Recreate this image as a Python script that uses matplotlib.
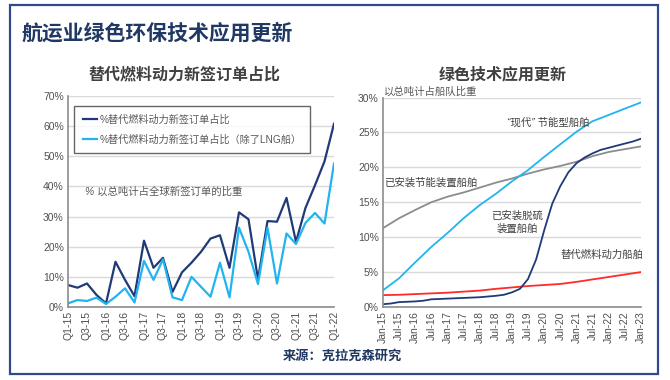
import numpy as np
import pandas as pd
import matplotlib
matplotlib.use("Agg")
import matplotlib.pyplot as plt
import matplotlib.dates as mdates
from matplotlib.patches import Rectangle
from matplotlib.ticker import PercentFormatter

plt.rcParams['font.family'] = ['Liberation Sans', 'Noto Sans CJK SC']

# ---- left chart data: share of new orders, quarterly ----
quarters = [f"Q{q}-{y}" for y in range(15, 23) for q in range(1, 5)][:29]
alt_share = [7.3, 6.4, 7.8, 4.0, 1.2, 15.0, 9.0, 3.6, 22.0, 13.0, 16.3, 5.0,
             11.5, 14.7, 18.3, 22.7, 23.8, 13.0, 31.4, 29.1, 9.2, 28.5, 28.3,
             36.2, 21.6, 32.9, 40.4, 48.3, 60.8]
alt_share_ex_lng = [1.2, 2.3, 2.0, 3.1, 1.0, 3.4, 6.2, 1.5, 15.3, 9.0, 15.8, 3.2,
                    2.3, 10.0, 6.7, 3.4, 14.7, 3.2, 26.3, 18.3, 7.6, 26.3, 7.8,
                    24.4, 20.9, 27.9, 31.2, 27.7, 47.6]

# ---- right chart data: share of fleet ----
half_years = pd.date_range("2015-01-01", "2023-01-01", freq="6MS")
energy_saving = [11.3, 12.7, 13.9, 15.0, 15.8, 16.4, 17.1, 17.8, 18.4, 19.1,
                 19.7, 20.2, 20.8, 21.6, 22.2, 22.6, 23.0]
eco_ships = [2.4, 4.1, 6.4, 8.6, 10.6, 12.7, 14.6, 16.2, 18.0, 19.6, 21.5,
             23.3, 25.1, 26.6, 27.5, 28.4, 29.3]
alt_fuel_fleet = [1.7, 1.75, 1.85, 1.95, 2.05, 2.2, 2.35, 2.6, 2.8, 3.0, 3.15,
                  3.3, 3.6, 3.95, 4.3, 4.65, 5.0]
quarter_dates = pd.date_range("2015-01-01", "2023-01-01", freq="3MS")
scrubbers = [0.4, 0.5, 0.7, 0.75, 0.8, 0.9, 1.1, 1.15, 1.2, 1.25, 1.3, 1.35,
             1.4, 1.5, 1.6, 1.75, 2.1, 2.6, 4.0, 6.8, 11.0, 14.8, 17.3, 19.3,
             20.6, 21.4, 22.0, 22.5, 22.8, 23.1, 23.4, 23.7, 24.1]

NAVY = "#1F3864"
DARK = "#203A78"
LIGHT = "#22B4EE"
TXT = "#595959"

fig = plt.figure(figsize=(6.7, 3.8), dpi=100)
fig.patch.set_facecolor("white")
fig.patches.append(Rectangle((10 / 670, 1 - 374 / 380), 648 / 670, 369 / 380,
                             transform=fig.transFigure, fill=False,
                             edgecolor="#2E4A8C", linewidth=1.6))

fig.text(22 / 670, 1 - 33 / 380, "航运业绿色环保技术应用更新", fontsize=15,
         fontweight="bold", color=NAVY, va="center", ha="left")
fig.text(185 / 670, 1 - 75 / 380, "替代燃料动力新签订单占比", fontsize=11.5,
         fontweight="bold", color="#404040", va="center", ha="center")
fig.text(503 / 670, 1 - 75 / 380, "绿色技术应用更新", fontsize=11.5,
         fontweight="bold", color="#404040", va="center", ha="center")
fig.text(283 / 670, 1 - 356 / 380, "来源：克拉克森研究", fontsize=9.5,
         fontweight="bold", color=NAVY, va="center", ha="left")


def style_axes(ax):
    ax.spines[["top", "right"]].set_visible(False)
    for s in ("left", "bottom"):
        ax.spines[s].set_color("#8C8C8C")
        ax.spines[s].set_linewidth(1.2)
    ax.grid(axis="y", color="#D9D9D9", linewidth=1)
    ax.set_axisbelow(True)
    ax.tick_params(length=0, labelsize=7.5, labelcolor="#505050", pad=3)


# ---- left chart ----
ax1 = fig.add_axes([68 / 670, 1 - 307 / 380, 266 / 670, 211 / 380])
x = np.arange(len(quarters))
ax1.plot(x, alt_share, color=DARK, linewidth=1.6, label="%替代燃料动力新签订单占比")
ax1.plot(x, alt_share_ex_lng, color=LIGHT, linewidth=1.6,
         label="%替代燃料动力新签订单占比（除了LNG船）")
ax1.set_xlim(0, len(quarters) - 1)
ax1.set_ylim(0, 70)
ax1.set_yticks(range(0, 71, 10))
ax1.yaxis.set_major_formatter(PercentFormatter(decimals=0))
ax1.set_xticks(x[::2])
ax1.set_xticklabels(quarters[::2], rotation=90)
style_axes(ax1)
leg = ax1.legend(loc="upper left", bbox_to_anchor=(0.005, 0.975), fontsize=7.3,
                 frameon=True, fancybox=False, edgecolor="#404040",
                 handlelength=1.4, handletextpad=0.3, borderpad=0.8,
                 labelspacing=1.0)
leg.get_frame().set_linewidth(1.0)
for t in leg.get_texts():
    t.set_color(TXT)
ax1.text(0.065, 0.545, "% 以总吨计占全球新签订单的比重", transform=ax1.transAxes,
         fontsize=7.5, color=TXT, style="italic", va="center")

# ---- right chart ----
ax2 = fig.add_axes([383 / 670, 1 - 307 / 380, 258 / 670, 209.5 / 380])
ax2.plot(half_years, energy_saving, color="#8C8C8C", linewidth=1.3)
ax2.plot(half_years, eco_ships, color=LIGHT, linewidth=1.3)
ax2.plot(half_years, alt_fuel_fleet, color="#FF2A2A", linewidth=1.3)
ax2.plot(quarter_dates, scrubbers, color=DARK, linewidth=1.3)
ax2.set_xlim(half_years[0], half_years[-1])
ax2.set_ylim(0, 30)
ax2.set_yticks(range(0, 31, 5))
ax2.yaxis.set_major_formatter(PercentFormatter(decimals=0))
ax2.set_xticks(half_years)
ax2.xaxis.set_major_formatter(mdates.DateFormatter("%b-%y"))
plt.setp(ax2.get_xticklabels(), rotation=90)
style_axes(ax2)

ax2.text(0.005, 1.03, "以总吨计占船队比重", transform=ax2.transAxes,
         fontsize=7.5, color=TXT, va="center", ha="left")
ax2.text(0.64, 0.88, "“现代” 节能型船舶", transform=ax2.transAxes,
         fontsize=7.5, color="#404040", style="italic", ha="center", va="center")
ax2.text(0.005, 0.595, "已安装节能装置船舶", transform=ax2.transAxes,
         fontsize=7.5, color="#404040", style="italic", ha="left", va="center")
ax2.text(0.52, 0.405, "已安装脱硫\n装置船舶", transform=ax2.transAxes,
         fontsize=7.5, color="#404040", style="italic", ha="center", va="center",
         linespacing=1.3)
ax2.text(0.85, 0.25, "替代燃料动力船舶", transform=ax2.transAxes,
         fontsize=7.5, color="#404040", style="italic", ha="center", va="center")

fig.savefig("out.png", dpi=100, facecolor="white")
